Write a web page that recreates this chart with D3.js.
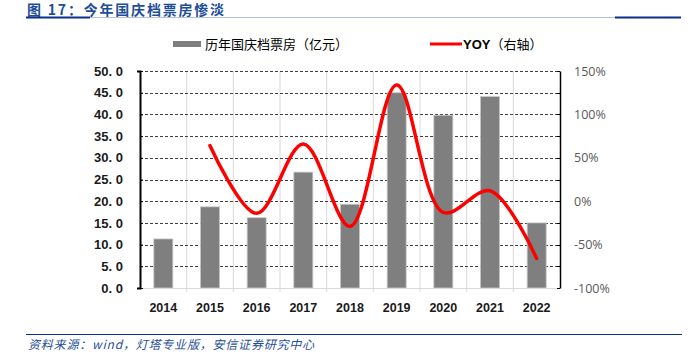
<!DOCTYPE html>
<html>
<head>
<meta charset="utf-8">
<script src="https://cdn.jsdelivr.net/npm/d3@7"></script>
<style>
  body { margin: 0; background: #fff; }
  svg { display: block; font-family: "Noto Sans CJK SC", "Liberation Sans", sans-serif; }
</style>
</head>
<body>
<svg width="697" height="361"></svg>
<script>
// data
const years = ['2014', '2015', '2016', '2017', '2018', '2019', '2020', '2021', '2022'];
const boxOffice = [11.3, 18.7, 16.2, 26.7, 19.3, 45.0, 39.8, 44.1, 15.0];   // 亿元
const yoy = [null, 64, -14, 66, -29, 134, -13, 12, -66];                       // %
const leftTicks = [0, 5, 10, 15, 20, 25, 30, 35, 40, 45, 50];
const rightTicks = [-100, -50, 0, 50, 100, 150];

const svg = d3.select('svg');
const plot = { l: 140, r: 560, t: 71, b: 288 };

const x = d3.scaleBand().domain(years).range([plot.l, plot.r]).paddingInner(0).paddingOuter(0);
const yL = d3.scaleLinear().domain([0, 50]).range([plot.b, plot.t]);
const yR = d3.scaleLinear().domain([-100, 150]).range([plot.b, plot.t]);

// header
svg.append('text')
    .attr('x', 27).attr('y', 15)
    .attr('fill', '#1f4e99')
    .attr('font-size', 14).attr('font-weight', 'bold')
    .attr('letter-spacing', 1.8)
    .text('图 17：今年国庆档票房惨淡');
svg.append('line').attr('x1', 26).attr('x2', 681).attr('y1', 17.5).attr('y2', 17.5)
    .attr('stroke', '#b4c0dc').attr('stroke-width', 1);
svg.append('line').attr('x1', 26).attr('x2', 90).attr('y1', 17.5).attr('y2', 17.5)
    .attr('stroke', '#0b2f8c').attr('stroke-width', 2);
svg.append('line').attr('x1', 615).attr('x2', 681).attr('y1', 17.5).attr('y2', 17.5)
    .attr('stroke', '#0b2f8c').attr('stroke-width', 2);

// legend
svg.append('rect').attr('x', 173).attr('y', 41).attr('width', 28).attr('height', 6).attr('fill', '#7f7f7f');
svg.append('text').attr('x', 205).attr('y', 49).attr('font-size', 13).attr('fill', '#000')
    .text('历年国庆档票房（亿元）');
svg.append('line').attr('x1', 430).attr('x2', 462).attr('y1', 44).attr('y2', 44)
    .attr('stroke', '#ff0000').attr('stroke-width', 3);
svg.append('text').attr('x', 463).attr('y', 49).attr('font-size', 13).attr('fill', '#000')
    .html('<tspan font-weight="bold" font-family="Liberation Sans, sans-serif">YOY</tspan>（右轴）');

// vertical light grid at category boundaries
svg.append('g').selectAll('line')
    .data(years.slice(1))
    .join('line')
    .attr('x1', d => x(d)).attr('x2', d => x(d))
    .attr('y1', plot.t).attr('y2', plot.b + 4)
    .attr('stroke', '#d9d9d9').attr('stroke-width', 1);

// horizontal dashed grid
svg.append('g').selectAll('line')
    .data(leftTicks.filter(d => d > 0))
    .join('line')
    .attr('x1', plot.l).attr('x2', plot.r)
    .attr('y1', d => Math.round(yL(d)) + 0.5).attr('y2', d => Math.round(yL(d)) + 0.5)
    .attr('stroke', '#404040').attr('stroke-width', 1).attr('stroke-dasharray', '3,2');

// bars
const bw = 19;
svg.append('g').selectAll('rect')
    .data(years)
    .join('rect')
    .attr('x', d => x(d) + x.bandwidth() / 2 - bw / 2)
    .attr('y', (d, i) => yL(boxOffice[i]))
    .attr('width', bw)
    .attr('height', (d, i) => plot.b - yL(boxOffice[i]))
    .attr('fill', '#7f7f7f')
    .attr('stroke', '#c8c8c8').attr('stroke-width', 0.8);

// bottom axis
const xAxis = svg.append('g')
    .attr('transform', `translate(0,${plot.b})`);
xAxis.append('line').attr('x1', plot.l).attr('x2', plot.r).attr('y1', 0.5).attr('y2', 0.5)
    .attr('stroke', '#d9d9d9');
xAxis.selectAll('text')
    .data(years)
    .join('text')
    .attr('x', d => x(d) + x.bandwidth() / 2)
    .attr('y', 24)
    .attr('text-anchor', 'middle')
    .attr('font-size', 12.5).attr('font-weight', 'bold')
    .attr('font-family', 'Liberation Sans, sans-serif')
    .attr('fill', '#1a1a1a')
    .text(d => d);

// left axis
const leftAxis = d3.axisLeft(yL).tickValues(leftTicks).tickSize(3)
    .tickFormat(d => d3.format('.1f')(d).replace('.', '. '));
const gl = svg.append('g').attr('transform', `translate(${plot.l},0)`).call(leftAxis);
gl.select('.domain').attr('stroke', '#000').attr('stroke-width', 2);
gl.selectAll('.tick line').attr('stroke', '#000').attr('x2', 3).attr('x1', 0);
gl.selectAll('.tick text')
    .attr('x', -17)
    .attr('font-size', 13).attr('font-weight', 'bold')
    .attr('font-family', 'Liberation Sans, sans-serif')
    .attr('fill', '#1a1a1a');

// right axis
const rightAxis = d3.axisRight(yR).tickValues(rightTicks).tickSize(0)
    .tickFormat(d => d + '%');
const gr = svg.append('g').attr('transform', `translate(${plot.r},0)`).call(rightAxis);
gr.select('.domain').attr('stroke', '#000').attr('stroke-width', 1.5);
gr.selectAll('.tick text')
    .attr('x', 14)
    .attr('font-size', 12.5)
    .attr('font-family', 'Open Sans, sans-serif')
    .attr('fill', '#595959');
svg.append('g').selectAll('line')
    .data(leftTicks)
    .join('line')
    .attr('x1', plot.r - 3).attr('x2', plot.r)
    .attr('y1', d => Math.round(yL(d)) + 0.5).attr('y2', d => Math.round(yL(d)) + 0.5)
    .attr('stroke', '#000');

// yoy line
const pts = years.map((d, i) => ({ year: d, v: yoy[i] })).filter(d => d.v !== null);
const line = d3.line()
    .x(d => x(d.year) + x.bandwidth() / 2)
    .y(d => yR(d.v))
    .curve(d3.curveCatmullRom.alpha(0.5));
svg.append('path')
    .datum(pts)
    .attr('d', line)
    .attr('fill', 'none')
    .attr('stroke', '#ff0000')
    .attr('stroke-width', 3.5)
    .attr('stroke-linecap', 'round');

// footer
svg.append('line').attr('x1', 26).attr('x2', 682).attr('y1', 334.5).attr('y2', 334.5)
    .attr('stroke', '#0b2f8c').attr('stroke-width', 1.2);
svg.append('text').attr('x', 28).attr('y', 349)
    .attr('font-size', 12).attr('font-style', 'italic')
    .attr('letter-spacing', 0.8)
    .attr('fill', '#1f4e99')
    .text('资料来源：wind，灯塔专业版，安信证券研究中心');
</script>
</body>
</html>
